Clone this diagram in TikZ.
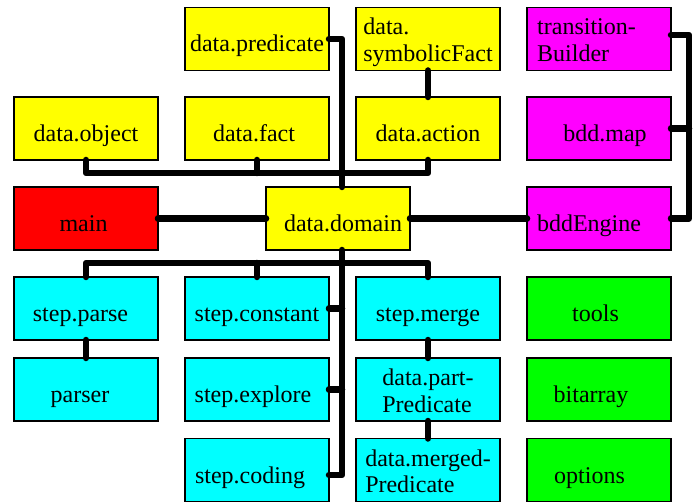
\documentclass[tikz,border=0pt]{standalone}
\usepackage{fontspec}
\setmainfont{Liberation Serif}
\usetikzlibrary{calc}

% two stacked, left-aligned lines whose reference point is the first baseline
\newcommand{\twoln}[2]{\begin{tabular}[t]{@{}l@{}}#1\\#2\end{tabular}}

\begin{document}
\begin{tikzpicture}[x=1pt,y=-1pt,
  module/.style={draw=black,line width=1.2pt,minimum width=144pt,minimum height=63pt,
    inner sep=0pt,outer sep=0pt,font=\fontsize{24}{26.5}\selectfont,
    text height=28pt,text depth=2pt},
  twoline/.style={text height=10pt,text depth=18pt},
  tx/.style={execute at begin node={\hspace*{#1}}},
  yel/.style={module,fill={rgb,255:red,255;green,255;blue,0}},
  rd/.style={module,fill={rgb,255:red,255;green,0;blue,0}},
  mag/.style={module,fill={rgb,255:red,255;green,0;blue,255}},
  cyn/.style={module,fill={rgb,255:red,0;green,255;blue,255}},
  grn/.style={module,fill={rgb,255:red,0;green,255;blue,0}},
  wire/.style={draw=black,line width=6.5pt,line cap=round,line join=round}]

\useasboundingbox (0,0) rectangle (698,502);

% data layer
\node[yel] (pred) at (257,39) {data.predicate};
\node[yel,twoline] (sym) at (428,39) {\twoln{data.}{symbolicFact}};
\node[yel] (obj) at (86,128.5) {data.object};
\node[yel,tx=-6pt] (fact) at (257,128.5) {data.fact};
\node[yel] (act) at (428,128.5) {data.action};
\node[rd,tx=-5pt] (main) at (86,218.5) {main};
\node[yel,tx=10pt] (dom) at (338,218.5) {data.domain};

% BDD layer
\node[mag,twoline,tx=-25pt] (tb) at (599,39) {\twoln{transition-}{Builder}};
\node[mag,tx=12pt] (map) at (599,128.5) {bdd.map};
\node[mag,tx=-20pt] (bdd) at (599,218.5) {bddEngine};

% processing steps
\node[cyn,tx=-11pt] (parse) at (86,308.5) {step.parse};
\node[cyn,tx=-12pt] (parser) at (86,389.5) {parser};
\node[cyn] (const) at (257,308.5) {step.constant};
\node[cyn,tx=-8pt] (explore) at (257,389.5) {step.explore};
\node[cyn,tx=-14pt] (coding) at (257,470) {step.coding};
\node[cyn] (merge) at (428,308.5) {step.merge};
\node[cyn,twoline] (part) at (428,389.5) {\twoln{data.part-}{Predicate}};
\node[cyn,twoline] (mpred) at (428,470) {\twoln{data.merged-}{Predicate}};

% utilities
\node[grn,tx=-7pt] (tools) at (599,308.5) {tools};
\node[grn,tx=-16pt] (bits) at (599,389.5) {bitarray};
\node[grn,tx=-19pt] (opts) at (599,470) {options};

% bus lines
\coordinate (busA) at (0,173);
\coordinate (busL) at (0,263);
\coordinate (vb) at (342,0);
\coordinate (busR) at (689,0);

% upper connections
\draw[wire] (pred.east) -| ([xshift=4pt]dom.north);
\draw[wire] (obj.south) |- (act.south |- busA) -- (act.south);
\draw[wire] (fact.south) -- (fact.south |- busA);
\draw[wire] (sym.south) -- (act.north);
\draw[wire] (main.east) -- (dom.west);
\draw[wire] (dom.east) -- (bdd.west);
\draw[wire] ([yshift=4pt]tb.east) -| (busR |- bdd.east) -- (bdd.east);
\draw[wire] (map.east) -- (map.east -| busR);

% lower connections
\draw[wire] ([xshift=4pt]dom.south) |- ([yshift=-5pt]coding.east);
\draw[wire] (parse.north) |- (merge.north |- busL) -- (merge.north);
\draw[wire] (const.north) -- (const.north |- busL);
\draw[wire] (const.east) -- (const.east -| vb);
\draw[wire] (explore.east) -- (explore.east -| vb);
\draw[wire] (parse.south) -- (parser.north);
\draw[wire] (merge.south) -- (part.north);
\draw[wire] (part.south) -- (mpred.north);

\end{tikzpicture}
\end{document}
